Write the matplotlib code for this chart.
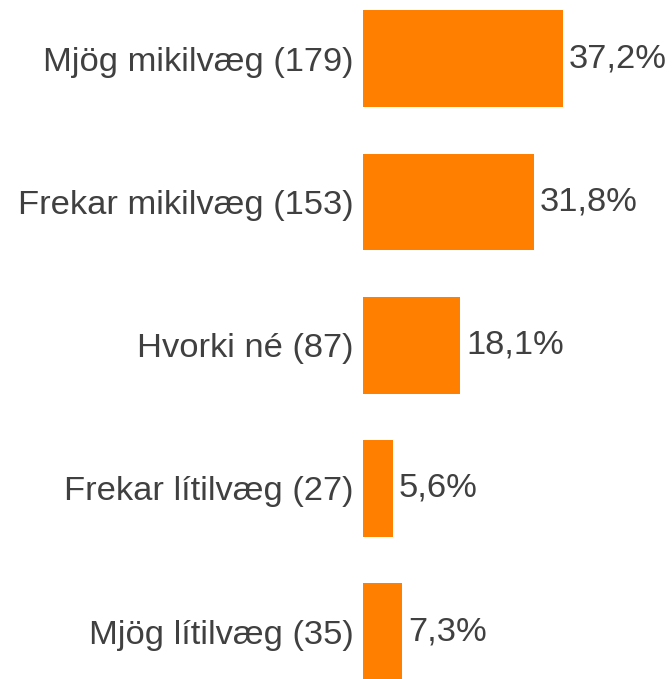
import matplotlib.pyplot as plt

plt.rcParams['font.family'] = ['Liberation Sans', 'DejaVu Sans']

categories = ['Mjög mikilvæg (179)', 'Frekar mikilvæg (153)', 'Hvorki né (87)',
              'Frekar lítilvæg (27)', 'Mjög lítilvæg (35)']
percents = [37.2, 31.8, 18.1, 5.6, 7.3]
labels = ['37,2%', '31,8%', '18,1%', '5,6%', '7,3%']

bar_color = '#FF8000'
text_color = '#404040'

fig = plt.figure(figsize=(6.72, 6.79), dpi=100)
ax = fig.add_axes([363 / 672, 0, 1 - 363 / 672, 1])

ypos = range(len(categories))
ax.barh(ypos, percents, height=0.676, color=bar_color)

for y, p, lab in zip(ypos, percents, labels):
    ax.text(p + 1.1, y, lab, va='center', ha='left', fontsize=24.8, color=text_color)

ax.set_yticks(list(ypos))
ax.set_yticklabels(categories, fontsize=24.8, color=text_color)
ax.tick_params(axis='y', length=0, pad=7)
ax.set_xticks([])
ax.set_xlim(0, 57.5)
ax.set_ylim(4.33, -0.41)
for s in ax.spines.values():
    s.set_visible(False)

fig.savefig('out.png', dpi=100)
